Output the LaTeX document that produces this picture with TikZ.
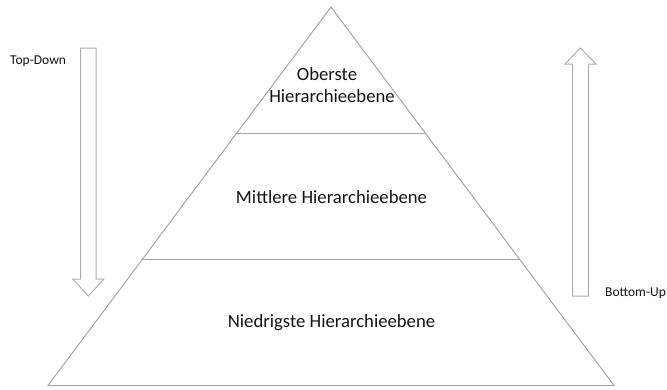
\documentclass[tikz,border=0pt]{standalone}
\usepackage{fontspec}
\setmainfont{Carlito}
\usetikzlibrary{calc}
\definecolor{linegray}{RGB}{165,165,165}
\definecolor{arrowgray}{RGB}{175,175,175}
\definecolor{txt}{RGB}{20,20,20}
\begin{document}
\begin{tikzpicture}[x=1pt,y=-1pt,
  pyr/.style={draw=linegray,line width=1pt,line join=miter},
  blockarrow/.style={draw=arrowgray,line width=1pt,fill=white,line join=miter},
  big/.style={font=\fontsize{18.7}{22.8}\selectfont,text=txt,inner sep=0pt},
  small/.style={font=\fontsize{13.5}{16}\selectfont,text=txt,inner sep=0pt}]
\useasboundingbox (0,0) rectangle (667,389);
% pyramid
\coordinate (apex) at (331,7);
\coordinate (bl) at (48,385.5);
\coordinate (br) at (614,385.5);
\draw[pyr] (apex) -- (bl) -- (br) -- cycle;
\coordinate (l1) at ($(apex)!0.3329!(bl)$);
\coordinate (r1) at ($(apex)!0.3329!(br)$);
\coordinate (l2) at ($(apex)!0.6684!(bl)$);
\coordinate (r2) at ($(apex)!0.6684!(br)$);
\draw[pyr] (l1) -- (r1);
\draw[pyr] (l2) -- (r2);
% level texts
\node[big,anchor=base] (ob1) at (327,80) {Oberste};
\node[big,anchor=base] (ob2) at (332,102) {Hierarchieebene};
\node[big,anchor=base] (mid) at (331.5,203) {Mittlere Hierarchieebene};
\node[big,anchor=base] (low) at (331.5,327) {Niedrigste Hierarchieebene};
% down arrow
\draw[blockarrow] (80.7,48) -- (96,48) -- (96,279) -- (104,279) -- (88.3,296)
  -- (72.7,279) -- (80.7,279) -- cycle;
\node[small,anchor=base west] (td) at (10,64) {Top-Down};
% up arrow
\draw[blockarrow] (572.7,296) -- (588.3,296) -- (588.3,64) -- (596,64) -- (580.3,48)
  -- (565,64) -- (572.7,64) -- cycle;
\node[small,anchor=base west] (bu) at (605,296) {Bottom-Up};
\end{tikzpicture}
\end{document}
